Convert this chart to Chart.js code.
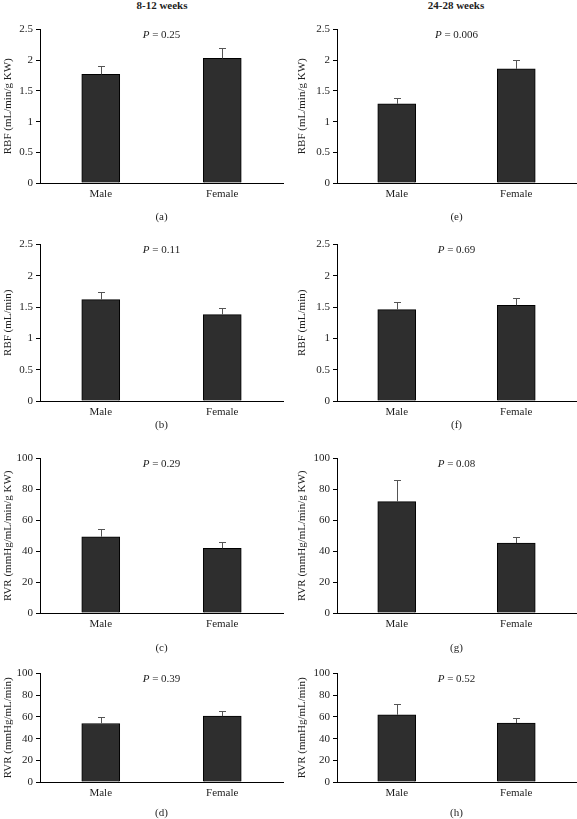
<!DOCTYPE html>
<html>
<head>
<meta charset="utf-8">
<script src="https://cdn.jsdelivr.net/npm/chart.js@4.4.1/dist/chart.umd.min.js"></script>
<style>
  body { margin: 0; background: #fff; }
  #wrap { position: relative; width: 577px; height: 819px; overflow: hidden;
          font-family: 'Liberation Serif', 'Times New Roman', Times, serif; color: #1e1e1e; }
  .box { position: absolute; }
  .lbl { position: absolute; transform: translate(-50%, -50%); font-size: 11px; white-space: nowrap; }
  .head { font-weight: bold; }
</style>
</head>
<body>
<div id="wrap">
  <div class="lbl head" style="left:162px;top:5px">8-12 weeks</div>
  <div class="lbl head" style="left:456px;top:5px">24-28 weeks</div>
</div>
<script>
'use strict'

const categories = ['Male', 'Female'];

// 8-12 weeks
const rbfKwYoung = [1.77, 2.03];
const rbfKwYoungSem = [0.14, 0.17];
const rbfYoung = [1.62, 1.38];
const rbfYoungSem = [0.12, 0.10];
const rvrKwYoung = [49.4, 41.9];
const rvrKwYoungSem = [5.3, 4.1];
const rvrYoung = [54.0, 60.7];
const rvrYoungSem = [6.1, 5.2];

// 24-28 weeks
const rbfKwOld = [1.29, 1.86];
const rbfKwOldSem = [0.10, 0.15];
const rbfOld = [1.46, 1.53];
const rbfOldSem = [0.13, 0.12];
const rvrKwOld = [72.1, 45.3];
const rvrKwOldSem = [14.3, 4.1];
const rvrOld = [62.0, 54.4];
const rvrOldSem = [10.3, 4.3];

const rbfTicks = [0, 0.5, 1, 1.5, 2, 2.5];
const rvrTicks = [0, 20, 40, 60, 80, 100];

const panels = [
  { tag: '(a)', col: 0, row: 0, mean: rbfKwYoung, sem: rbfKwYoungSem, ticks: rbfTicks, yTitle: 'RBF (mL/min/g KW)', p: '0.25' },
  { tag: '(b)', col: 0, row: 1, mean: rbfYoung, sem: rbfYoungSem, ticks: rbfTicks, yTitle: 'RBF (mL/min)', p: '0.11' },
  { tag: '(c)', col: 0, row: 2, mean: rvrKwYoung, sem: rvrKwYoungSem, ticks: rvrTicks, yTitle: 'RVR (mmHg/mL/min/g KW)', p: '0.29' },
  { tag: '(d)', col: 0, row: 3, mean: rvrYoung, sem: rvrYoungSem, ticks: rvrTicks, yTitle: 'RVR (mmHg/mL/min)', p: '0.39' },
  { tag: '(e)', col: 1, row: 0, mean: rbfKwOld, sem: rbfKwOldSem, ticks: rbfTicks, yTitle: 'RBF (mL/min/g KW)', p: '0.006' },
  { tag: '(f)', col: 1, row: 1, mean: rbfOld, sem: rbfOldSem, ticks: rbfTicks, yTitle: 'RBF (mL/min)', p: '0.69' },
  { tag: '(g)', col: 1, row: 2, mean: rvrKwOld, sem: rvrKwOldSem, ticks: rvrTicks, yTitle: 'RVR (mmHg/mL/min/g KW)', p: '0.08' },
  { tag: '(h)', col: 1, row: 3, mean: rvrOld, sem: rvrOldSem, ticks: rvrTicks, yTitle: 'RVR (mmHg/mL/min)', p: '0.52' }
];

// layout of the page
const cols = [
  { x: 0, w: 288, axisW: 40, padR: 5, titlePad: 2 },
  { x: 288, w: 289, axisW: 49, padR: 1, titlePad: 8 }
];
const rows = [
  { top: 28, bottom: 183, tagY: 216 },
  { top: 243, bottom: 401, tagY: 424 },
  { top: 457, bottom: 613, tagY: 647 },
  { top: 672, bottom: 782, tagY: 812 }
];
const PAD_TOP = 8;
const X_AXIS_H = 30;
const FONT = "'Liberation Serif', 'Times New Roman', Times, serif";
const INK = '#1e1e1e';

Chart.defaults.font.family = FONT;
Chart.defaults.font.size = 11;
Chart.defaults.color = INK;

// error bars (upward only, small cap) + P value in the plot
function overlay(panel) {
  return {
    id: 'overlay',
    afterDatasetsDraw(chart) {
      const ctx = chart.ctx;
      const y = chart.scales.y;
      const area = chart.chartArea;
      ctx.save();
      ctx.strokeStyle = '#555';
      ctx.lineWidth = 1;
      chart.getDatasetMeta(0).data.forEach((bar, i) => {
        const x = Math.round(bar.x) + 0.5;
        const top = Math.round(y.getPixelForValue(panel.mean[i] + panel.sem[i])) + 0.5;
        ctx.beginPath();
        ctx.moveTo(x, bar.y);
        ctx.lineTo(x, top);
        ctx.moveTo(x - 3.5, top);
        ctx.lineTo(x + 3.5, top);
        ctx.stroke();
      });

      const cx = (area.left + area.right) / 2;
      const cy = area.top + 6;
      const rest = ' = ' + panel.p;
      ctx.fillStyle = INK;
      ctx.textBaseline = 'middle';
      ctx.font = 'italic 11px ' + FONT;
      const wP = ctx.measureText('P').width;
      ctx.font = '11px ' + FONT;
      const wR = ctx.measureText(rest).width;
      const x0 = cx - (wP + wR) / 2;
      ctx.textAlign = 'left';
      ctx.font = 'italic 11px ' + FONT;
      ctx.fillText('P', x0, cy);
      ctx.font = '11px ' + FONT;
      ctx.fillText(rest, x0 + wP, cy);
      ctx.restore();
    }
  };
}

document.addEventListener('DOMContentLoaded', function() {
  const wrap = document.getElementById('wrap');

  panels.forEach(panel => {
    const c = cols[panel.col];
    const r = rows[panel.row];
    const h = PAD_TOP + (r.bottom - r.top) + X_AXIS_H;

    const box = document.createElement('div');
    box.className = 'box';
    box.style.left = c.x + 'px';
    box.style.top = (r.top - PAD_TOP) + 'px';
    box.style.width = c.w + 'px';
    box.style.height = h + 'px';
    const canvas = document.createElement('canvas');
    box.appendChild(canvas);
    wrap.appendChild(box);

    const tag = document.createElement('div');
    tag.className = 'lbl';
    tag.style.left = (c.x + c.axisW + (c.w - c.axisW - c.padR) / 2) + 'px';
    tag.style.top = r.tagY + 'px';
    tag.textContent = panel.tag;
    wrap.appendChild(tag);

    const ticks = panel.ticks;
    new Chart(canvas.getContext('2d'), {
      type: 'bar',
      data: {
        labels: categories,
        datasets: [{
          data: panel.mean,
          backgroundColor: '#2e2e2e',
          borderColor: '#000',
          borderWidth: 1,
          barThickness: 38
        }]
      },
      options: {
        responsive: true,
        maintainAspectRatio: false,
        animation: false,
        events: [],
        layout: { padding: { top: PAD_TOP, right: c.padR, left: 0, bottom: 0 } },
        plugins: { legend: { display: false }, tooltip: { enabled: false } },
        scales: {
          x: {
            grid: { display: false, drawTicks: false },
            border: { display: true, color: '#000', width: 1 },
            ticks: { padding: 5, color: INK },
            afterFit: s => { s.height = X_AXIS_H; }
          },
          y: {
            min: ticks[0],
            max: ticks[ticks.length - 1],
            grid: { drawOnChartArea: false, drawTicks: true, tickLength: 4, color: '#000' },
            border: { display: true, color: '#000', width: 1 },
            ticks: {
              stepSize: ticks[1] - ticks[0],
              padding: 3,
              color: INK,
              callback: v => String(v)
            },
            title: { display: true, text: panel.yTitle, color: INK, padding: { top: c.titlePad, bottom: 0 } },
            afterFit: s => { s.width = c.axisW; }
          }
        }
      },
      plugins: [overlay(panel)]
    });
  });
});
</script>
</body>
</html>
